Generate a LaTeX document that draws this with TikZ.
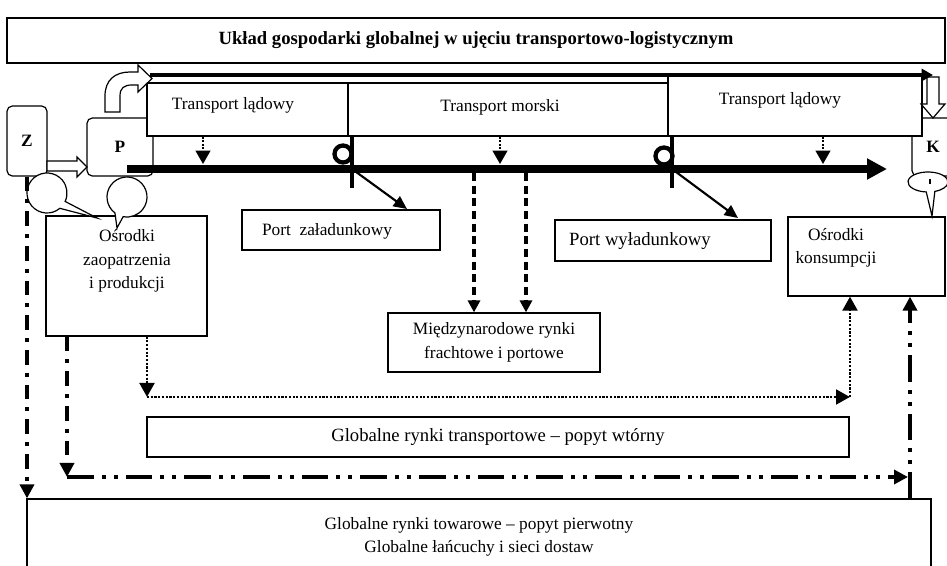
\documentclass[tikz,border=0pt]{standalone}
\usepackage{fontspec}
\setmainfont{Liberation Serif}
\usetikzlibrary{arrows.meta}

\begin{document}
\begin{tikzpicture}[x=0.75pt, y=-0.75pt,
    font=\fontsize{13}{17.5}\selectfont,
    box/.style={draw, fill=white, line width=0.9pt, inner sep=0pt, align=center},
    txt/.style={inner sep=0pt, align=center},
    bigtxt/.style={font=\fontsize{14}{17.5}\selectfont},
    letter/.style={font=\bfseries\fontsize{13}{15}\selectfont},
    mainline/.style={line width=5.6pt, -{Triangle[length=15pt, width=15pt]}},
    topline/.style={line width=2.5pt, -{Triangle[length=8.5pt, width=9pt]}},
    dotarrow/.style={line width=1.5pt, dash pattern=on 1.5pt off 1.2pt, -{Triangle[length=10pt, width=11pt]}},
    dotlink/.style={line width=2.2pt, dash pattern=on 1.6pt off 1.2pt, -{Triangle[length=10.5pt, width=11pt]}},
    dasharrow/.style={line width=2.4pt, dash pattern=on 6pt off 3.5pt, -{Triangle[length=9pt, width=9pt]}},
    dashdot/.style={line width=3pt, dash pattern=on 11pt off 6pt on 3pt off 6pt, -{Triangle[length=10.5pt, width=10.5pt]}},
    dashdotdot/.style={line width=3pt, dash pattern=on 20pt off 6pt on 3pt off 6pt on 3pt off 6pt, -{Triangle[length=10.5pt, width=10.5pt]}},
    portbar/.style={line width=3.5pt},
    portring/.style={line width=3.2pt},
    portarrow/.style={line width=1.6pt, -{Triangle[length=10pt, width=9pt]}},
    blockarrow/.style={draw, fill=white, line width=0.9pt},
    callout/.style={draw, fill=white, line width=0.9pt}
  ]
  \useasboundingbox (0,0) rectangle (947,566);
  \clip (0,0) rectangle (947,566);

  % Title
  \node[box, minimum width=703.5pt, minimum height=33.75pt, font=\bfseries\fontsize{14}{16}\selectfont] (title) at (476,40.5) {Układ gospodarki globalnej w ujęciu transportowo-logistycznym};

  % Z, P and K
  \node[box, rounded corners=4pt, minimum width=30pt, minimum height=52.5pt, letter] (zbox) at (27,141) {Z};
  \node[box, rounded corners=4pt, minimum width=49.5pt, minimum height=43.5pt, letter] (pbox) at (120,147) {P};
  \node[box, rounded corners=4pt, minimum width=36pt, minimum height=43.5pt] (kbox) at (936,147) {};
  \node[txt, letter] (ktext) at (933,147) {K};

  % Transport boxes
  \node[box, minimum width=150.75pt, minimum height=39.75pt] (land1) at (247.5,109.5) {};
  \node[box, minimum width=240pt, minimum height=39.75pt] (sea) at (508,109.5) {};
  \node[box, minimum width=190.5pt, minimum height=45.75pt] (land2) at (795,105.5) {};
  \node[txt] (land1t) at (233,105) {Transport lądowy};
  \node[txt] (seat) at (500,107) {Transport morski};
  \node[txt] (land2t) at (780,100) {Transport lądowy};

  % Block arrows
  \draw[blockarrow] (105,112) -- (105,96) .. controls (105,80) and (115,72) .. (130,72) -- (138,72) -- (138,65) -- (152,78.5) -- (138,92) -- (138,85) -- (132,85) .. controls (124,85) and (120,88) .. (120,96) -- (120,112) -- cycle;
  \draw[blockarrow] (47,161) -- (77,161) -- (77,157) -- (87,167) -- (77,177) -- (77,171) -- (47,171) -- cycle;
  \draw[blockarrow] (927,77) -- (927,104) -- (921,104) -- (933,118) -- (945,104) -- (939,104) -- (939,77) -- cycle;

  % Flow lines
  \coordinate (topS) at (150,75);
  \coordinate (topE) at (933,75);
  \coordinate (mainS) at (127,169);
  \coordinate (mainE) at (887,169);
  \draw[topline] (topS) -- (topE);
  \draw[mainline] (mainS) -- (mainE);

  % Small dotted arrows down to the main line
  \coordinate (m1) at (203,164);
  \coordinate (m2) at (500,164);
  \coordinate (m3) at (823,164);
  \draw[dotarrow] (land1.south -| m1) -- (m1);
  \draw[dotarrow] (sea.south -| m2) -- (m2);
  \draw[dotarrow] (land2.south -| m3) -- (m3);

  % Lower boxes
  \node[box, minimum width=148.5pt, minimum height=30pt] (portL) at (341,230) {};
  \node[txt] (portLt) at (327,231) {Port\ \ załadunkowy};
  \node[box, minimum width=162pt, minimum height=30.75pt] (portU) at (663,240.5) {};
  \node[txt, bigtxt] (portUt) at (640,241) {Port wyładunkowy};
  \node[box, minimum width=159pt, minimum height=44.25pt] (market) at (494,342.5) {Międzynarodowe rynki\\frachtowe i portowe};
  \node[box, minimum width=120.75pt, minimum height=90pt] (supply) at (126.5,276) {};
  \node[txt] (supplyt) at (127,261) {Ośrodki\\zaopatrzenia\\i produkcji};
  \node[box, minimum width=117.75pt, minimum height=59.25pt] (consume) at (866.5,256.5) {};
  \node[txt] (consumet) at (836,248) {Ośrodki\\konsumpcji};
  \node[box, bigtxt, minimum width=526.5pt, minimum height=30pt] (transp) at (498,437) {Globalne rynki transportowe -- popyt wtórny};
  \node[box, minimum width=678pt, minimum height=57pt] (goods) at (479,537) {Globalne rynki towarowe -- popyt pierwotny\\Globalne łańcuchy i sieci dostaw};

  % Ports
  \coordinate (port1) at (352,169);
  \coordinate (port2) at (672,169);
  \coordinate (tip1) at (407,209);
  \coordinate (tip2) at (738,218);
  \draw[portarrow] (port1) -- (tip1);
  \draw[portarrow] (port2) -- (tip2);
  \draw[portbar] (port1) ++(0,-32) -- ++(0,51);
  \draw[portbar] (port2) ++(0,-32) -- ++(0,51);
  \draw[portring] (port1) ++(-9,-15) circle[radius=8.5];
  \draw[portring] (port2) ++(-8,-13) circle[radius=8.5];

  % Callouts
  \draw[callout] (47,193) ++(50:20) arc[start angle=50, end angle=385, radius=20] -- (97,218) -- cycle;
  \draw[callout] (127,197) ++(127:20) arc[start angle=127, end angle=461, radius=20] -- (117,228) -- cycle;
  \draw[callout] (928,182) ++(95:20 and 10) arc[start angle=95, end angle=430, x radius=20, y radius=10] -- (932,216) -- cycle;
  \draw[line width=0.9pt] (930,179) -- (930,184);

  % Links to the markets
  \coordinate (f1) at (474,173);
  \coordinate (f2) at (526,173);
  \draw[dasharrow] (f1) -- (market.north -| f1);
  \draw[dasharrow] (f2) -- (market.north -| f2);

  \coordinate (c1) at (147,397);
  \coordinate (c2) at (850,397);
  \draw[dotlink] (supply.south -| c1) -- (c1);
  \draw[dotlink] (c1) -- (c2);
  \draw[dotlink] (c2) -- (consume.south -| c2);

  \coordinate (g1) at (67,477);
  \coordinate (g2) at (908,477);
  \coordinate (g3) at (910,499);
  \draw[dashdot] (supply.south -| g1) -- (g1);
  \draw[dashdotdot] (g1) -- (g2);
  \draw[dashdotdot] (g3) -- (consume.south -| g3);
  \draw[dashdot] (zbox.south) -- (goods.north -| zbox.south);
\end{tikzpicture}
\end{document}
